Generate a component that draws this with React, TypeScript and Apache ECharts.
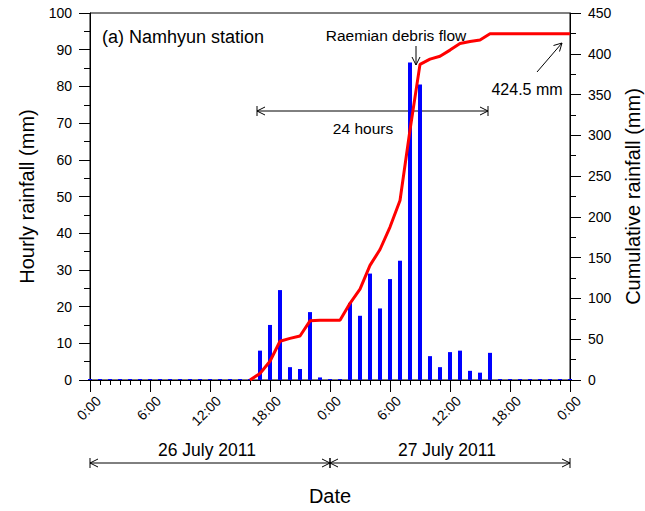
import React, { useEffect, useRef } from "react";
import * as echarts from "echarts";

// Hour index 0..48 from 26 July 2011 0:00 to 28 July 2011 0:00
const hourTicks = [0, 6, 12, 18, 24, 30, 36, 42, 48];
const tickLabels = ["0:00", "6:00", "12:00", "18:00", "0:00", "6:00", "12:00", "18:00", "0:00"];

// Hourly rainfall (mm) for hours 0..48
const hourlyRain = [
  0, 0, 0, 0, 0, 0, 0, 0, 0, 0, 0, 0, 0, 0, 0, 0, 0,
  8, 15, 24.5, 3.5, 3, 18.5, 0.7, 0, 0,
  21, 17.5, 29, 19.5, 27.5, 32.5, 86.5, 80.5, 6.5, 3.5, 7.6, 8, 2.5, 2, 7.4,
  0, 0, 0, 0, 0, 0, 0, 0,
];

// Cumulative rainfall (mm)
const cumHours = [16, 17, 18, 19, 20, 21, 22, 23, 24, 25, 26, 27, 28, 29, 30, 31, 32, 33, 34, 35, 36, 37, 38, 39, 40, 48];
const cumRain = [0, 8, 23, 47.5, 51, 54, 72.5, 73.2, 73.2, 73.2, 94, 111.5, 140.5, 160, 187.5, 220, 306.5, 387, 393.5, 397, 404.5, 412.5, 415, 417, 424.5, 424.5];

const dayLabels = ["26 July 2011", "27 July 2011"];

const FONT = "Liberation Sans";
const GL = 90;
const GR = 570;
const GT = 13;
const GB = 380;
const px = (h: number) => GL + (h / 48) * (GR - GL);

function arrowHead(x: number, y: number, dir: "left" | "right" | "down" | "upright", s = 8) {
  let pts: number[][] = [];
  if (dir === "left") pts = [[x + s, y - 4], [x, y], [x + s, y + 4]];
  if (dir === "right") pts = [[x - s, y - 4], [x, y], [x - s, y + 4]];
  if (dir === "down") pts = [[x - 4, y - s], [x, y], [x + 4, y - s]];
  if (dir === "upright") {
    pts = [[x - 8.5, y + 2.5], [x, y], [x - 2.5, y + 8.5]];
  }
  return { type: "polyline", shape: { points: pts }, style: { stroke: "#000", fill: null, lineWidth: 1 }, silent: true };
}

function dblArrow(x1: number, x2: number, y: number) {
  return [
    { type: "line", shape: { x1, y1: y, x2, y2: y }, style: { stroke: "#000", lineWidth: 1 } },
    arrowHead(x1, y, "left"),
    arrowHead(x2, y, "right"),
    { type: "line", shape: { x1, y1: y - 5, x2: x1, y2: y + 5 }, style: { stroke: "#000", lineWidth: 1 } },
    { type: "line", shape: { x1: x2, y1: y - 5, x2, y2: y + 5 }, style: { stroke: "#000", lineWidth: 1 } },
  ];
}

export default function App() {
  const ref = useRef<HTMLDivElement>(null);
  useEffect(() => {
    if (!ref.current) return;
    const chart = echarts.init(ref.current, null, { renderer: "svg" });
    const axisCommon = {
      axisLine: { show: true, lineStyle: { color: "#000", width: 1 } },
      splitLine: { show: false },
      axisLabel: { color: "#000", fontSize: 14, fontFamily: FONT, margin: 18 },
      nameTextStyle: { color: "#000", fontSize: 20, fontFamily: FONT },
    };
    const option: any = {
      animation: false,
      textStyle: { fontFamily: FONT },
      grid: {
        left: GL,
        right: 645 - GR,
        top: GT,
        bottom: 511 - GB,
        show: true,
        borderColor: "#000",
        borderWidth: 1,
        backgroundColor: "transparent",
        containLabel: false,
        outerBoundsMode: "none",
      },
      xAxis: {
        type: "value",
        min: 0,
        max: 48,
        interval: 6,
        name: "Date",
        nameLocation: "middle",
        nameGap: 106,
        nameTextStyle: { color: "#000", fontSize: 20, fontFamily: FONT },
        axisLine: { show: true, onZero: false, lineStyle: { color: "#000" } },
        axisTick: { show: true, inside: false, length: 12, lineStyle: { color: "#000" } },
        minorTick: { show: true, splitNumber: 6, length: 5, lineStyle: { color: "#000" } },
        splitLine: { show: false },
        axisLabel: {
          rotate: 45,
          margin: 10,
          fontSize: 14,
          lineHeight: 24,
          verticalAlign: "top",
          color: "#000",
          fontFamily: FONT,
          formatter: (v: number) => tickLabels[hourTicks.indexOf(v)] ?? "",
        },
      },
      yAxis: [
        {
          ...axisCommon,
          type: "value",
          position: "left",
          min: 0,
          max: 100,
          interval: 10,
          name: "Hourly rainfall (mm)",
          nameLocation: "middle",
          nameRotate: 90,
          nameGap: 53,
          axisTick: { show: true, inside: false, length: 11, lineStyle: { color: "#000" } },
          minorTick: { show: true, splitNumber: 2, length: 6, lineStyle: { color: "#000" } },
        },
        {
          ...axisCommon,
          type: "value",
          position: "right",
          min: 0,
          max: 450,
          interval: 50,
          name: "Cumulative rainfall (mm)",
          nameLocation: "middle",
          nameRotate: 90,
          nameGap: 53,
          axisTick: { show: true, inside: false, length: 11, lineStyle: { color: "#000" } },
          minorTick: { show: true, splitNumber: 2, length: 6, lineStyle: { color: "#000" } },
        },
      ],
      series: [
        {
          type: "bar",
          yAxisIndex: 0,
          barWidth: 4,
          barMinHeight: 1,
          itemStyle: { color: "#0000ff" },
          data: hourlyRain.map((v, h) => [h, v]),
          z: 2,
        },
        {
          type: "line",
          yAxisIndex: 1,
          showSymbol: false,
          lineStyle: { color: "#ff0000", width: 3 },
          data: cumHours.map((h, i) => [h, cumRain[i]]),
          z: 3,
        },
      ],
      graphic: [
        {
          type: "text",
          x: 102,
          y: 37,
          style: { text: "(a) Namhyun station", font: `18px "${FONT}"`, fill: "#000", verticalAlign: "middle", textAlign: "left" },
        },
        {
          type: "text",
          x: 396,
          y: 35,
          style: { text: "Raemian debris flow", font: `15.5px "${FONT}"`, fill: "#000", verticalAlign: "middle", textAlign: "center" },
        },
        { type: "line", shape: { x1: 416, y1: 46, x2: 416, y2: 65 }, style: { stroke: "#000", lineWidth: 1 } },
        arrowHead(416, 65, "down"),
        ...dblArrow(257, 488, 111),
        {
          type: "text",
          x: 363,
          y: 128,
          style: { text: "24 hours", font: `15.5px "${FONT}"`, fill: "#000", verticalAlign: "middle", textAlign: "center" },
        },
        {
          type: "text",
          x: 527,
          y: 89,
          style: { text: "424.5 mm", font: `16px "${FONT}"`, fill: "#000", verticalAlign: "middle", textAlign: "center" },
        },
        { type: "line", shape: { x1: 537, y1: 72, x2: 562, y2: 43 }, style: { stroke: "#000", lineWidth: 1 } },
        arrowHead(562, 43, "upright"),
        ...dblArrow(px(0), px(24), 463),
        ...dblArrow(px(24), px(48), 463),
        {
          type: "text",
          x: px(12) - 3,
          y: 450,
          style: { text: dayLabels[0], font: `17.5px "${FONT}"`, fill: "#000", verticalAlign: "middle", textAlign: "center" },
        },
        {
          type: "text",
          x: px(36) - 3,
          y: 450,
          style: { text: dayLabels[1], font: `17.5px "${FONT}"`, fill: "#000", verticalAlign: "middle", textAlign: "center" },
        },
      ],
    };
    chart.setOption(option);
    return () => chart.dispose();
  }, []);
  return <div ref={ref} style={{ position: "fixed", left: 0, top: 0, width: 645, height: 511, background: "#fff" }} />;
}
